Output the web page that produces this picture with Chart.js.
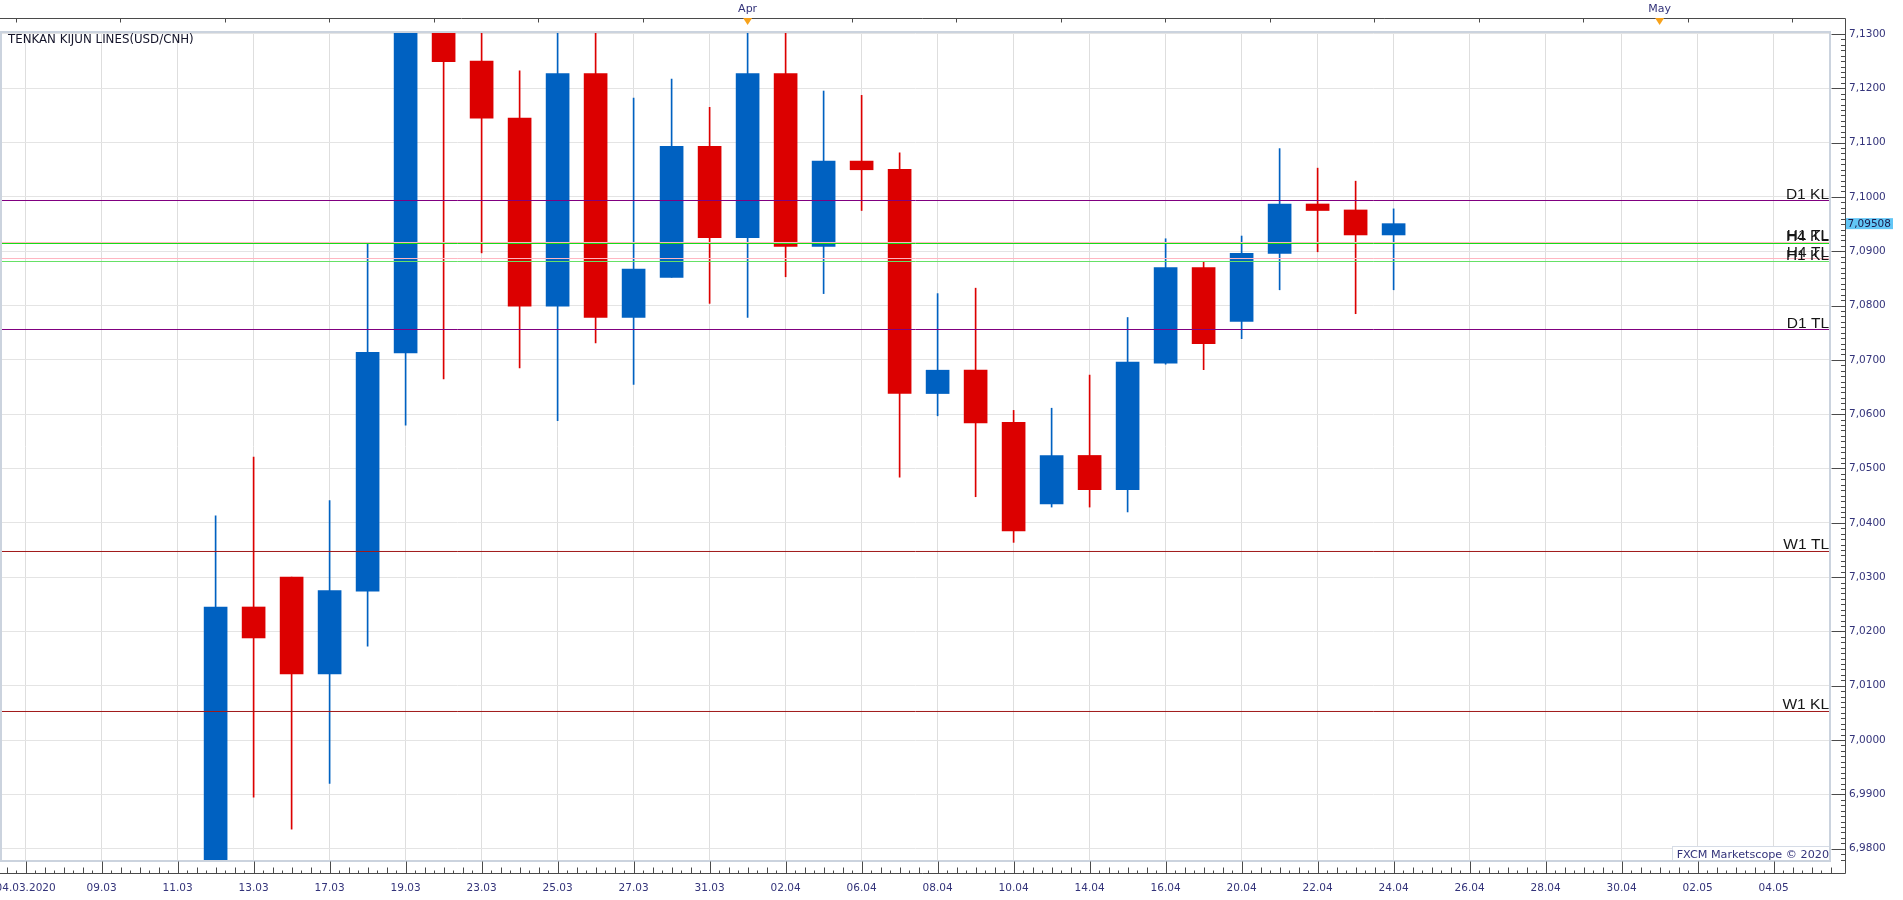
<!DOCTYPE html>
<html><head><meta charset="utf-8">
<script src="https://cdn.jsdelivr.net/npm/chart.js@4.4.1/dist/chart.umd.min.js"></script>
<style>html,body{margin:0;padding:0;background:#fff;overflow:hidden}#wrap{position:relative;width:1903px;height:900px}</style>
</head><body><div id="wrap"><canvas id="c" width="1903" height="900"></canvas></div>
<script>
// ---------- DATA ----------
const slotLabels = ['04.03.2020','05.03','09.03','10.03','11.03','12.03','13.03','16.03','17.03','18.03','19.03','20.03',
  '23.03','24.03','25.03','26.03','27.03','30.03','31.03','01.04','02.04','03.04','06.04','07.04','08.04','09.04','10.04',
  '13.04','14.04','15.04','16.04','17.04','20.04','21.04','22.04','23.04','24.04','25.04','26.04','27.04','28.04','29.04',
  '30.04','01.05','02.05','03.05','04.05','05.05'];
const candleDates = ['12.03','13.03','16.03','17.03','18.03','19.03','20.03','23.03','24.03','25.03','26.03','27.03','30.03',
  '31.03','01.04','02.04','03.04','06.04','07.04','08.04','09.04','10.04','13.04','14.04','15.04','16.04','17.04','20.04',
  '21.04','22.04','23.04','24.04'];
const opens  = [6.9760,7.0245,7.0300,7.0122,7.0274,7.0713,7.1330,7.1250,7.1145,7.0799,7.1227,7.0778,7.0852,
  7.1093,7.0925,7.1227,7.0909,7.1066,7.1051,7.0638,7.0681,7.0585,7.0435,7.0524,7.0461,7.0694,7.0870,7.0771,
  7.0896,7.0987,7.0976,7.0930];
const highs  = [7.0413,7.0521,7.0300,7.0441,7.0914,7.1450,7.1400,7.1350,7.1232,7.1320,7.1310,7.1182,7.1217,
  7.1165,7.1320,7.1310,7.1195,7.1187,7.1081,7.0822,7.0832,7.0607,7.0611,7.0672,7.0778,7.0923,7.0881,7.0928,
  7.1089,7.1053,7.1029,7.0978];
const lows   = [6.9740,6.9895,6.9836,6.9920,7.0173,7.0580,7.0665,7.0897,7.0685,7.0588,7.0731,7.0655,7.0852,
  7.0804,7.0778,7.0853,7.0822,7.0975,7.0484,7.0597,7.0448,7.0364,7.0429,7.0429,7.0420,7.0692,7.0682,7.0739,
  7.0829,7.0899,7.0785,7.0829];
const closes = [7.0245,7.0188,7.0122,7.0275,7.0714,7.1335,7.1249,7.1145,7.0799,7.1227,7.0778,7.0867,7.1093,
  7.0925,7.1227,7.0909,7.1066,7.1050,7.0638,7.0681,7.0584,7.0385,7.0524,7.0461,7.0696,7.0870,7.0730,7.0896,
  7.0987,7.0975,7.0930,7.09508];
const levelNames  = ['D1 KL','H1 TL','H4 KL','H4 TL','H1 KL','D1 TL','W1 TL','W1 KL'];
const levelValues = [7.09934, 7.09161, 7.09143, 7.08866, 7.08811, 7.07559, 7.03472, 7.00526];
const yTickValues = [6.98,6.99,7.00,7.01,7.02,7.03,7.04,7.05,7.06,7.07,7.08,7.09,7.10,7.11,7.12,7.13];
const monthNames = ['Apr','May'];
const monthDates = ['01.04','01.05'];
const chartTitle = 'TENKAN KIJUN LINES(USD/CNH)';
const footerText = 'FXCM Marketscope \u00A9 2020';

// ---------- STYLE ----------
const UP = '#0061c1', DOWN = '#dc0000';
const levelColors = {'D1 KL':'#800080','D1 TL':'#800080','H1 TL':'#ffb6c1','H4 KL':'#11dd11','H4 TL':'#ffb6c1','H1 KL':'#66e066','W1 TL':'#a01818','W1 KL':'#a01818'};
const TXT = '#33337a', RULER = '#4a4a4a', FONT = 'DejaVu Sans';
const X_MIN = -0.674, X_MAX = 47.51;
const Y_MIN = 6.97755, Y_MAX = 7.13055;

const slotOf = d => slotLabels.indexOf(d);
const candleSlots = candleDates.map(slotOf);
const colors = closes.map((c,i)=> c >= opens[i] ? UP : DOWN);

const datasets = [];
levelNames.forEach((n,i)=>{
  datasets.push({type:'line', label:n, data:[{x:X_MIN,y:levelValues[i]},{x:X_MAX,y:levelValues[i]}],
    borderColor:levelColors[n], borderWidth:1, pointRadius:0, order:0, clip:0});
});
datasets.push({type:'bar', label:'body', data:candleSlots.map((s,i)=>({x:s,y:[opens[i],closes[i]]})),
  backgroundColor:colors, barThickness:23, grouped:false, order:1, borderWidth:0});
datasets.push({type:'bar', label:'wick', data:candleSlots.map((s,i)=>({x:s,y:[lows[i],highs[i]]})),
  backgroundColor:colors, barThickness:1, grouped:false, order:2, borderWidth:0});

function seg(ctx,x1,y1,x2,y2){ctx.beginPath();ctx.moveTo(x1,y1);ctx.lineTo(x2,y2);ctx.stroke();}

const deco = {
  id:'deco',
  beforeDraw(chart){
    const ctx = chart.ctx; ctx.save(); ctx.fillStyle='#fff'; ctx.fillRect(0,0,chart.width,chart.height); ctx.restore();
  },
  afterDatasetsDraw(chart){
    const {ctx, scales:{y}, chartArea:a} = chart;
    ctx.save();
    ctx.font = '15.5px "Liberation Sans"';
    ctx.textAlign = 'right'; ctx.textBaseline = 'alphabetic'; ctx.fillStyle = '#161616';
    levelNames.forEach((n,i)=>{
      ctx.fillText(n, a.right-2, Math.round(y.getPixelForValue(levelValues[i])) - 2.5);
    });
    ctx.restore();
  },
  afterDraw(chart){
    const {ctx, chartArea:a, scales:{x,y}} = chart;
    ctx.save();
    // footer box
    const fbL = 1672;
    ctx.fillStyle='#fff'; ctx.fillRect(fbL, 846, a.right-fbL, a.bottom-846);
    ctx.strokeStyle='#d6dce6'; ctx.lineWidth=1; ctx.strokeRect(fbL+0.5, 846.5, a.right-fbL-1, a.bottom-847);
    ctx.font = '11.2px "'+FONT+'"'; ctx.fillStyle = TXT; ctx.textAlign='right'; ctx.textBaseline='middle';
    ctx.fillText(footerText, a.right-2, 855);
    // frame
    ctx.strokeStyle='#cbd3de'; ctx.lineWidth=2;
    ctx.strokeRect(a.left+1, a.top+1, a.right-a.left-2, a.bottom-a.top-2);
    // rulers
    ctx.strokeStyle=RULER; ctx.lineWidth=1;
    const rx = 1845.5, by = 873.5, ty = 18.5;
    seg(ctx, 0, ty, rx, ty);
    seg(ctx, rx, ty, rx, by);
    seg(ctx, 0, by, rx, by);
    // right ticks
    for (let k = Math.ceil(Y_MIN*1000); k <= Math.floor(Y_MAX*1000); k++){
      const py = Math.round(y.getPixelForValue(k/1000)) + 0.5;
      const len = (k % 10 === 0) ? 14 : 4.5;
      seg(ctx, rx - len, py, rx, py);
    }
    // bottom ticks
    for (let q = Math.ceil(X_MIN*4); q <= Math.floor(X_MAX*4); q++){
      const s = q/4;
      const px = Math.round(x.getPixelForValue(s)) + 0.5;
      let len = 3;
      if (q % 8 === 0) len = 12; else if (q % 2 === 0) len = 6;
      seg(ctx, px, by - len, px, by);
    }
    // top ticks
    for (let px = 15.5; px < rx; px += 104.5){
      seg(ctx, Math.round(px)+0.5, ty, Math.round(px)+0.5, ty+4);
    }
    // month markers
    ctx.font = '11px "'+FONT+'"'; ctx.textAlign='center'; ctx.textBaseline='middle';
    monthNames.forEach((m,i)=>{
      const px = x.getPixelForValue(slotOf(monthDates[i]));
      ctx.fillStyle = TXT; ctx.fillText(m, px, 9);
      ctx.fillStyle = '#f7a21b';
      ctx.beginPath(); ctx.moveTo(px-4.5, 18); ctx.lineTo(px+4.5, 18); ctx.lineTo(px, 25); ctx.closePath(); ctx.fill();
    });
    // title
    ctx.font = '11.8px "'+FONT+'"'; ctx.fillStyle='#14142a'; ctx.textAlign='left'; ctx.textBaseline='middle';
    ctx.fillText(chartTitle, 8, 39.5);
    // current price label
    const last = closes[closes.length-1];
    const py = y.getPixelForValue(last);
    ctx.fillStyle = '#62c6f6'; ctx.fillRect(1846, py-5.5, 47, 11);
    ctx.font = '10.5px "'+FONT+'"'; ctx.fillStyle='#1a1a4a'; ctx.textAlign='left'; ctx.textBaseline='middle';
    ctx.fillText(last.toFixed(5).replace('.',','), 1847.5, py+0.5);
    ctx.restore();
  }
};

Chart.defaults.font.family = FONT;
new Chart(document.getElementById('c'), {
  type:'bar',
  data:{datasets},
  options:{
    responsive:false, animation:false, devicePixelRatio:1,
    layout:{padding:{top:31,left:0,right:0,bottom:0}},
    plugins:{legend:{display:false}, tooltip:{enabled:false}, title:{display:false}},
    scales:{
      x:{type:'linear', position:'bottom', min:X_MIN, max:X_MAX, offset:false,
        afterBuildTicks:s=>{ s.ticks = slotLabels.map((l,i)=>i).filter(i=>i%2===0).map(v=>({value:v})); },
        afterFit:s=>{ s.height = 38; s.paddingLeft = 0; s.paddingRight = 0; },
        grid:{color:'#dedede', lineWidth:1, drawTicks:false, offset:false},
        border:{display:false},
        ticks:{autoSkip:false, maxRotation:0, padding:20, color:TXT, font:{size:10.5},
          callback:v=>slotLabels[v]}
      },
      y:{type:'linear', position:'right', min:Y_MIN, max:Y_MAX,
        afterBuildTicks:s=>{ s.ticks = yTickValues.map(v=>({value:v})); },
        afterFit:s=>{ s.width = 72; s.paddingTop = 0; s.paddingBottom = 0; },
        grid:{color:'#e4e4e4', lineWidth:1, drawTicks:false, offset:false},
        border:{display:false},
        ticks:{padding:18, color:TXT, font:{size:10.5},
          callback:v=>Number(v).toFixed(4).replace('.',',')}
      }
    }
  },
  plugins:[deco]
});
</script></body></html>
